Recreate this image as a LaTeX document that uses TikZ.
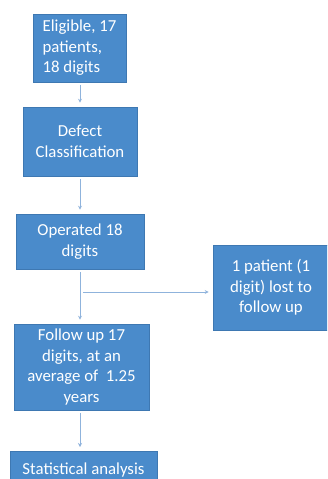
\documentclass[tikz,border=0pt]{standalone}
\usepackage{fontspec}
\setmainfont{Carlito}
\usetikzlibrary{arrows.meta}
\definecolor{boxfill}{HTML}{4A8BCB}
\definecolor{boxedge}{HTML}{3E78B2}
\definecolor{arrowc}{HTML}{8FB3DC}
\tikzset{
  flowbox/.style={draw=boxedge, line width=0.6pt, fill=boxfill, text=white, align=center,
    inner sep=0pt, font=\fontsize{16.8}{20.5}\selectfont},
  conn/.style={draw=arrowc, line width=0.9pt, -{Stealth[length=4pt,width=4pt]}, shorten >=4pt, shorten <=3pt}
}
\begin{document}
\begin{tikzpicture}[x=1pt,y=-1pt]
\useasboundingbox (0,0) rectangle (327,479);
\fill[white] (0,0) rectangle (327,479);
\clip (0,0) rectangle (327,479);
\node[flowbox, minimum width=93pt, minimum height=68pt, align=left] (b1) at (79.5,48) {Eligible, 17\\patients,\\18 digits};
\node[flowbox, minimum width=114pt, minimum height=69pt] (b2) at (80,141.5) {Defect\\Classification};
\node[flowbox, minimum width=128pt, minimum height=55pt] (b3) at (80,241.5) {Operated 18\\digits};
\node[flowbox, minimum width=116pt, minimum height=85pt] (b4) at (271,287.5) {1 patient (1\\digit) lost to\\follow up};
\node[flowbox, minimum width=135pt, minimum height=86pt] (b5) at (81.5,367) {Follow up 17\\digits, at an\\average of~~1.25\\years};
\node[flowbox, minimum width=147pt, minimum height=40pt, anchor=north] (b6) at (83.5,451) {\raisebox{5pt}{Statistical analysis}};
\coordinate (h) at (83,292);
\draw[conn] (b1.south -| 80,0) -- (b2.north -| 80,0);
\draw[conn] (b2.south -| 80,0) -- (b3.north -| 80,0);
\draw[conn] (b3.south -| 80,0) -- (b5.north -| 80,0);
\draw[conn, shorten <=0pt] (h) -- (h -| b4.west);
\draw[conn] (b5.south -| 80,0) -- (b6.north -| 80,0);
\end{tikzpicture}
\end{document}
